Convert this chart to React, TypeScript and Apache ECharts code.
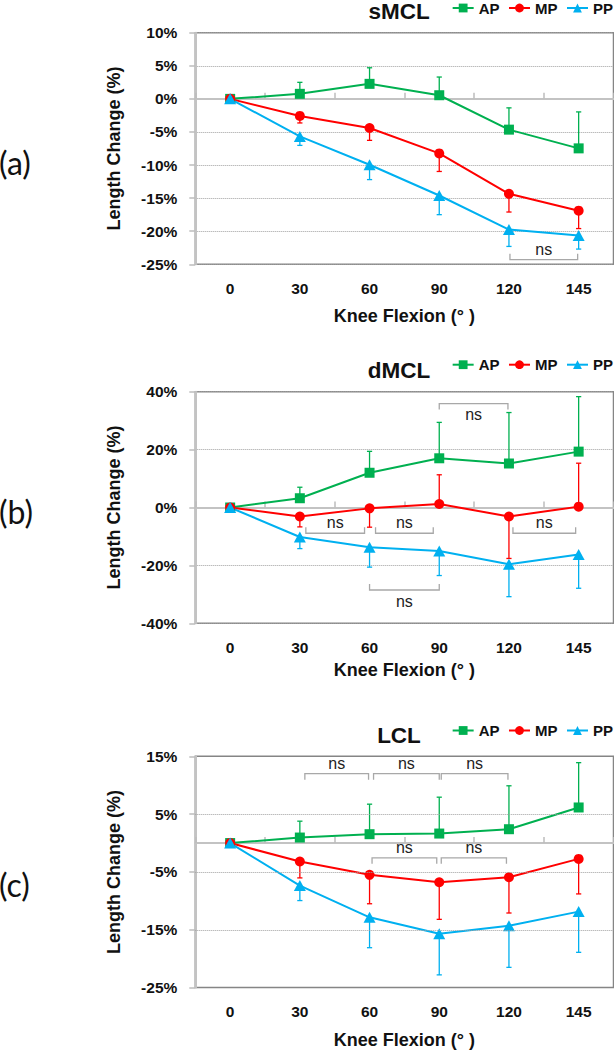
import React, { useEffect, useRef } from 'react';
import * as echarts from 'echarts';

// ---------- data ----------
const categories = ['0', '30', '60', '90', '120', '145'];
const seriesNames = ['AP', 'MP', 'PP'];

// (a) sMCL — means and error-bar ends (%)
const sMCL_AP = [0, 0.76, 2.27, 0.55, -4.65, -7.48];
const sMCL_AP_errTo = [null, 2.5, 4.7, 3.3, -1.36, -1.97];
const sMCL_MP = [0, -2.58, -4.4, -8.24, -14.35, -16.9];
const sMCL_MP_errTo = [null, -3.64, -6.27, -10.97, -17.1, -19.6];
const sMCL_PP = [0, -5.67, -9.95, -14.6, -19.75, -20.66];
const sMCL_PP_errTo = [null, -7.03, -12.2, -17.5, -22.3, -22.7];

// (b) dMCL
const dMCL_AP = [0, 3.2, 12.0, 17.0, 15.2, 19.3];
const dMCL_AP_errTo = [null, 7.0, 19.4, 29.4, 32.8, 38.3];
const dMCL_MP = [0, -3.1, -0.3, 1.2, -3.1, 0.3];
const dMCL_MP_errTo = [null, -6.7, -6.8, 11.3, -17.6, 15.3];
const dMCL_PP = [0, -10.2, -13.7, -15.0, -19.6, -16.2];
const dMCL_PP_errTo = [null, -14.2, -20.6, -23.5, -30.8, -27.9];

// (c) LCL
const LCL_AP = [0, 0.95, 1.53, 1.64, 2.39, 6.15];
const LCL_AP_errTo = [null, 3.78, 6.72, 7.93, 9.9, 13.9];
const LCL_MP = [0, -3.2, -5.5, -6.78, -5.92, -2.74];
const LCL_MP_errTo = [null, -6.03, -10.5, -13.2, -12.1, -8.8];
const LCL_PP = [0, -7.36, -12.85, -15.7, -14.3, -11.86];
const LCL_PP_errTo = [null, -9.95, -18.1, -22.8, -21.5, -18.9];

// y-axis ticks
const sMCLTicks = [-25, -20, -15, -10, -5, 0, 5, 10];
const dMCLTicks = [-40, -20, 0, 20, 40];
const LCLTicks = [-25, -15, -5, 5, 15];

// "ns" brackets: from / to category, level (%), tick direction, text side
type Bracket = { from: string; to: string; level: number; tick: 'up' | 'down'; text: 'above' | 'below' };
const sMCLBrackets: Bracket[] = [{ from: '120', to: '145', level: -24.3, tick: 'up', text: 'above' }];
const dMCLBrackets: Bracket[] = [
  { from: '90', to: '120', level: 35.9, tick: 'down', text: 'below' },
  { from: '30', to: '60', level: -8.9, tick: 'up', text: 'above' },
  { from: '60', to: '90', level: -8.9, tick: 'up', text: 'above' },
  { from: '120', to: '145', level: -8.9, tick: 'up', text: 'above' },
  { from: '60', to: '90', level: -28.5, tick: 'up', text: 'below' },
];
const LCLBrackets: Bracket[] = [
  { from: '30', to: '60', level: 12.0, tick: 'down', text: 'above' },
  { from: '60', to: '90', level: 12.0, tick: 'down', text: 'above' },
  { from: '90', to: '120', level: 12.0, tick: 'down', text: 'above' },
  { from: '60', to: '90', level: -2.56, tick: 'down', text: 'above' },
  { from: '90', to: '120', level: -2.56, tick: 'down', text: 'above' },
];

// ---------- layout / style ----------
const sMCLBracketInsets = [[1, 1]];
const dMCLBracketInsets = [[0, 1], [6, 5], [6, 6], [4, 3], [0, 0]];
const LCLBracketInsets = [[5, 1], [4, 0], [2, 1], [2.5, 2.5], [2, 2.5]];

const FONT = '"Liberation Sans", Arial, sans-serif';
const COLORS = ['#00B050', '#FF0000', '#00B0F0'];
const SYMBOLS = ['rect', 'circle', 'triangle'];
const SYMBOL_SIZES: any[] = [10, 10, [12, 11]];
const GRID_LEFT = 195.3;
const GRID_WIDTH = 418.2;
const GRID_HEIGHT = 231.6;
const GRID_TOPS = [32.7, 391.7, 756.3];
const X_NAME_GAPS = [43, 37.4, 43.4];
const TITLE_Y = [11.5, 370, 735];
const LEGEND_CENTER_Y = [9.5, 366.2, 732];
const PANEL_LABEL_Y = [162, 511.7, 884];

const panels = [
  {
    title: 'sMCL', label: '(a)', min: -25, max: 10, interval: 5, ticks: sMCLTicks,
    values: [sMCL_AP, sMCL_MP, sMCL_PP], errTo: [sMCL_AP_errTo, sMCL_MP_errTo, sMCL_PP_errTo],
    brackets: sMCLBrackets, insets: sMCLBracketInsets, gridlines: null as number[] | null,
  },
  {
    title: 'dMCL', label: '(b)', min: -40, max: 40, interval: 20, ticks: dMCLTicks,
    values: [dMCL_AP, dMCL_MP, dMCL_PP], errTo: [dMCL_AP_errTo, dMCL_MP_errTo, dMCL_PP_errTo],
    brackets: dMCLBrackets, insets: dMCLBracketInsets, gridlines: null as number[] | null,
  },
  {
    title: 'LCL', label: '(c)', min: -25, max: 15, interval: 5, ticks: LCLTicks,
    values: [LCL_AP, LCL_MP, LCL_PP], errTo: [LCL_AP_errTo, LCL_MP_errTo, LCL_PP_errTo],
    brackets: LCLBrackets, insets: LCLBracketInsets, gridlines: [5, -5, -15] as number[] | null,
  },
];

function buildOption() {
  const grid: any[] = [];
  const xAxis: any[] = [];
  const yAxis: any[] = [];
  const series: any[] = [];
  const legend: any[] = [];
  const graphic: any[] = [];

  panels.forEach((p, i) => {
    grid.push({
      left: GRID_LEFT, top: GRID_TOPS[i], width: GRID_WIDTH, height: GRID_HEIGHT,
      show: true, borderColor: '#858585', borderWidth: 1.5, backgroundColor: 'transparent',
    });
    xAxis.push({
      type: 'category', gridIndex: i, data: categories, position: 'bottom', boundaryGap: true,
      axisLine: { show: false, onZero: false }, axisTick: { show: false }, splitLine: { show: false },
      axisLabel: { margin: 16, fontSize: 15.5, fontWeight: 'bold', color: '#111', fontFamily: FONT },
      name: 'Knee Flexion (° )', nameLocation: 'middle', nameGap: X_NAME_GAPS[i],
      nameTextStyle: { fontSize: 18, fontWeight: 'bold', color: '#111', fontFamily: FONT },
    });
    xAxis.push({
      type: 'category', gridIndex: i, data: categories, position: 'bottom', boundaryGap: true,
      axisLine: { show: true, onZero: true, lineStyle: { color: '#c3c3c3', width: 2 } },
      axisTick: { show: true, inside: true, length: 6, alignWithLabel: false, lineStyle: { color: '#bdbdbd', width: 1.5 } },
      axisLabel: { show: false }, splitLine: { show: false },
    });
    const tickSet = p.ticks;
    yAxis.push({
      type: 'value', gridIndex: i, min: p.min, max: p.max, interval: p.interval,
      axisLine: { show: true, lineStyle: { color: '#c3c3c3', width: 2 } },
      axisTick: { show: true, length: 6, customValues: tickSet, lineStyle: { color: '#bdbdbd', width: 1.5 } },
      axisLabel: {
        margin: 18, fontSize: 15.5, fontWeight: 'bold', color: '#111', fontFamily: FONT,
        customValues: tickSet,
        formatter: (v: number) => (tickSet.indexOf(Math.round(v)) >= 0 ? Math.round(v) + '%' : ''),
      },
      splitLine: { show: !p.gridlines, lineStyle: { type: 'dotted', color: '#a0a0a0', width: 1 } },
      name: 'Length Change (%)', nameLocation: 'middle', nameRotate: 90, nameGap: 72,
      nameTextStyle: { fontSize: 18, fontWeight: 'bold', color: '#111', fontFamily: FONT },
    });

    // error bars
    seriesNames.forEach((name, k) => {
      const vals = p.values[k];
      const ends = p.errTo[k];
      const color = COLORS[k];
      const errData = vals.map((v, j) => [j, v, ends[j]]).filter((d) => d[2] != null);
      series.push({
        type: 'custom', xAxisIndex: 2 * i, yAxisIndex: i, z: 2, silent: true,
        data: errData, encode: { x: 0, y: [1, 2] },
        renderItem: (params: any, api: any) => {
          const x = api.value(0);
          const a = api.coord([x, api.value(1)]);
          const b = api.coord([x, api.value(2)]);
          const hw = 2.6;
          return {
            type: 'group',
            children: [
              { type: 'line', shape: { x1: a[0], y1: a[1], x2: b[0], y2: b[1] }, style: { stroke: color, lineWidth: 1.3 } },
              { type: 'line', shape: { x1: b[0] - hw, y1: b[1], x2: b[0] + hw, y2: b[1] }, style: { stroke: color, lineWidth: 1.3 } },
            ],
          };
        },
      });
    });

    // lines
    seriesNames.forEach((name, k) => {
      const s: any = {
        type: 'line', name, xAxisIndex: 2 * i, yAxisIndex: i, z: 3,
        data: p.values[k], symbol: SYMBOLS[k], symbolSize: SYMBOL_SIZES[k],
        itemStyle: { color: COLORS[k] }, lineStyle: { color: COLORS[k], width: 2 },
        emphasis: { disabled: true },
      };
      if (k === 0 && p.gridlines) {
        s.markLine = {
          silent: true, symbol: ['none', 'none'], label: { show: false },
          lineStyle: { type: 'dotted', color: '#a0a0a0', width: 1 },
          data: p.gridlines.map((g) => ({ yAxis: g })),
        };
      }
      series.push(s);
    });

    // ns brackets
    const br = p.brackets;
    const ins = p.insets;
    series.push({
      type: 'custom', xAxisIndex: 2 * i, yAxisIndex: i, z: 4, silent: true,
      data: br.map((b) => [categories.indexOf(b.from), categories.indexOf(b.to), b.level]),
      encode: { x: [0, 1], y: [2] },
      renderItem: (params: any, api: any) => {
        const b = br[params.dataIndex];
        const inset = ins[params.dataIndex];
        const p1 = api.coord([api.value(0), api.value(2)]);
        const p2 = api.coord([api.value(1), api.value(2)]);
        const x1 = p1[0] + inset[0];
        const x2 = p2[0] - inset[1];
        const y = p1[1];
        const dy = b.tick === 'up' ? -6 : 6;
        return {
          type: 'group',
          children: [
            {
              type: 'polyline',
              shape: { points: [[x1, y + dy], [x1, y], [x2, y], [x2, y + dy]] },
              style: { stroke: '#a8a8a8', fill: null, lineWidth: 1.3 },
            },
            {
              type: 'text',
              style: {
                text: 'ns', x: (x1 + x2) / 2, y: y + (b.text === 'above' ? -10.5 : 11),
                align: 'center', verticalAlign: 'middle', textAlign: 'center', textVerticalAlign: 'middle',
                fontSize: 16, fontFamily: FONT, fill: '#222',
              },
            },
          ],
        };
      },
    });

    legend.push({
      data: seriesNames, right: 1, top: LEGEND_CENTER_Y[i] - 9, padding: 0,
      itemWidth: 21, itemHeight: 11, itemGap: 8.5, selectedMode: false,
      textStyle: { fontSize: 15, fontWeight: 'bold', color: '#111', fontFamily: FONT },
    });

    graphic.push({
      type: 'text', x: 399, y: TITLE_Y[i], silent: true,
      style: {
        text: p.title, align: 'center', verticalAlign: 'middle', textAlign: 'center', textVerticalAlign: 'middle',
        fontSize: 22.5, fontWeight: 'bold', fontFamily: FONT, fill: '#111',
      },
    });
    graphic.push({
      type: 'text', x: -1, y: PANEL_LABEL_Y[i], silent: true,
      style: {
        text: p.label, align: 'left', verticalAlign: 'middle', textAlign: 'left', textVerticalAlign: 'middle',
        fontSize: 32, fontWeight: 'normal', fontFamily: 'Lato, sans-serif', fill: '#111',
      },
    });
  });

  return {
    animation: false,
    backgroundColor: '#ffffff',
    textStyle: { fontFamily: FONT },
    grid, xAxis, yAxis, series, legend, graphic,
  };
}

export default function App() {
  const ref = useRef<HTMLDivElement>(null);
  useEffect(() => {
    if (!ref.current) return;
    const chart = echarts.init(ref.current, undefined, { renderer: 'svg' });
    chart.setOption(buildOption() as any);
    return () => chart.dispose();
  }, []);
  return (
    <div
      ref={ref}
      style={{ position: 'absolute', left: 0, top: 0, width: 614, height: 1050, background: '#fff' }}
    />
  );
}
